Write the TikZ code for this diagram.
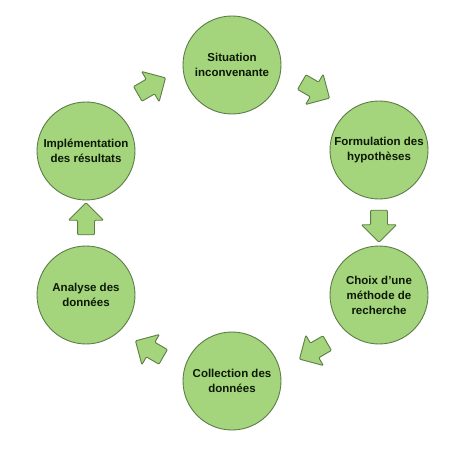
\documentclass[tikz,border=0pt]{standalone}
\usepackage{fontspec}
\setmainfont{Liberation Sans}
\usetikzlibrary{shapes.arrows}

\definecolor{cyclefill}{HTML}{A4D47C}
\definecolor{cycleline}{HTML}{5C7D47}
\definecolor{cycletext}{HTML}{0C1A05}

\tikzset{
  stage/.style={circle, draw=cycleline, fill=cyclefill, line width=0.9pt,
    minimum size=98pt, inner sep=0pt, align=center, text=cycletext,
    font=\fontsize{11.5}{15}\selectfont\bfseries},
  blockarrow/.style={single arrow, draw=cycleline, fill=cyclefill, line width=0.9pt,
    minimum height=32pt, inner xsep=0pt, inner ysep=8pt,
    single arrow head extend=9pt, rounded corners=1pt}
}

\begin{document}
\begin{tikzpicture}[x=1pt,y=-1pt]
            \useasboundingbox (0,0) rectangle (474,449);

            % the six stages
            \node[stage] (situation) at (232,65) {Situation\\inconvenante};
            \node[stage] (formulation) at (379,150) {Formulation des\\hypothèses};
            \node[stage] (choix) at (379,295) {Choix d’une\\méthode de\\recherche};
            \node[stage] (collection) at (232,381) {Collection des\\données};
            \node[stage] (analyse) at (86,295) {Analyse des\\données};
            \node[stage] (implementation) at (86,151) {Implémentation\\des résultats};

            % arrows between the stages
            \node[blockarrow, rotate=-30] (a1) at (312,88) {};
            \node[blockarrow, rotate=-90] (a2) at (379,222) {};
            \node[blockarrow, rotate=-150] (a3) at (317,349) {};
            \node[blockarrow, rotate=150] (a4) at (153,351) {};
            \node[blockarrow, rotate=90] (a5) at (86,223) {};
            \node[blockarrow, rotate=30] (a6) at (148,88) {};

        \end{tikzpicture}
\end{document}
